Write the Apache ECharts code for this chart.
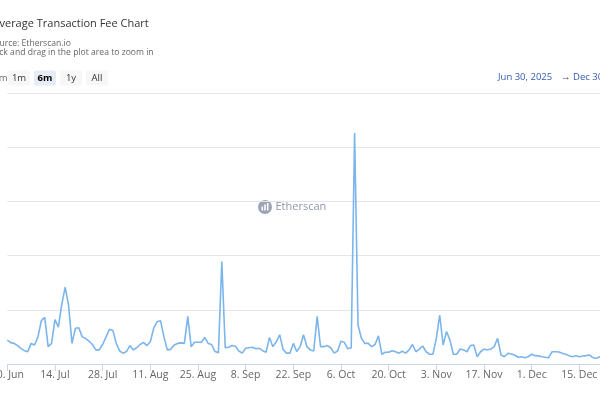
<!DOCTYPE html>
<html><head><meta charset="utf-8">
<script src="https://cdn.jsdelivr.net/npm/echarts@6/dist/echarts.min.js"></script>
<style>
html,body{margin:0;padding:0;width:600px;height:400px;overflow:hidden;background:#fff;}
#c{position:absolute;left:-40px;top:0;width:700px;height:400px;}
</style>
</head><body><div id="c"></div>
<script>
// ---- data ----
const startDate = [2025, 5, 30]; // Jun 30, 2025 (UTC)
const fees = [
0.22,0.197,0.19,0.17,0.145,0.123,0.114,0.19,0.175,0.25,
0.40,0.43,0.16,0.19,0.41,0.34,0.55,0.71,0.54,0.19,
0.33,0.335,0.25,0.235,0.21,0.18,0.13,0.13,0.18,0.25,
0.32,0.31,0.19,0.12,0.10,0.115,0.17,0.13,0.15,0.18,
0.20,0.17,0.205,0.33,0.39,0.40,0.25,0.13,0.135,0.175,
0.19,0.195,0.19,0.44,0.16,0.20,0.20,0.20,0.245,0.19,
0.18,0.115,0.105,0.945,0.15,0.155,0.17,0.163,0.12,0.10,
0.145,0.15,0.155,0.14,0.145,0.123,0.108,0.245,0.16,0.205,
0.27,0.135,0.10,0.10,0.19,0.115,0.16,0.27,0.16,0.13,
0.12,0.44,0.16,0.16,0.17,0.15,0.10,0.12,0.21,0.20,
0.14,0.15,2.13,0.36,0.237,0.19,0.19,0.16,0.18,0.26,
0.09,0.108,0.108,0.123,0.113,0.10,0.117,0.10,0.13,0.18,
0.113,0.138,0.166,0.113,0.09,0.09,0.237,0.45,0.175,0.30,
0.22,0.09,0.09,0.138,0.13,0.113,0.17,0.175,0.067,0.113,
0.138,0.13,0.138,0.16,0.237,0.083,0.067,0.099,0.093,0.083,
0.062,0.067,0.058,0.067,0.09,0.077,0.075,0.067,0.062,0.058,
0.113,0.113,0.11,0.099,0.09,0.077,0.067,0.077,0.067,0.074,
0.077,0.083,0.058,0.052,0.067,0.07,0.068,0.072,0.065,0.07,
0.075,0.068,0.066,0.07
];
const monthNames = ['Jan','Feb','Mar','Apr','May','Jun','Jul','Aug','Sep','Oct','Nov','Dec'];
const yTicks = [0, 0.5, 1, 1.5, 2, 2.5];
const rangeButtons = ['1m', '6m', '1y', 'All'];
const selectedButton = '6m';
const rangeFrom = 'Jun 30, 2025';
const rangeTo = 'Dec 30, 2025';
const titleText = 'Average Transaction Fee Chart';
const subtitleLines = ['Source: Etherscan.io', 'Click and drag in the plot area to zoom in'];

// ---- build ----
const t0 = Date.UTC(startDate[0], startDate[1], startDate[2]);
const categories = fees.map((_, i) => new Date(t0 + i * 86400000).toISOString().slice(0, 10));
const OX = 40; // container offset (page is cropped on the left)
const FONT = '"Open Sans", "Noto Sans", sans-serif';

const graphics = [];
graphics.push({type:'text', x: OX - 7.5, y: 24, style:{text: titleText, font: '11px ' + FONT, fill:'#333333', textVerticalAlign:'middle', verticalAlign:'middle'}});
subtitleLines.forEach((s, i) => graphics.push({type:'text', x: OX - 10.5, y: 43.5 + i * 8.8, style:{text: s, font: '8.6px ' + FONT, fill:'#666666', textVerticalAlign:'middle', verticalAlign:'middle'}}));
graphics.push({type:'text', x: OX + 7.5, y: 78, style:{text:'Zoom', font:'9.5px ' + FONT, fill:'#666666', textAlign:'right', align:'right', textVerticalAlign:'middle', verticalAlign:'middle'}});
rangeButtons.forEach((b, i) => {
  const x = OX + 8 + i * 26;
  const sel = b === selectedButton;
  graphics.push({type:'rect', shape:{x: x, y: 70.5, width: 22, height: 15, r: 2}, style:{fill: sel ? '#e6ebf5' : '#f7f7f7'}});
  graphics.push({type:'text', x: x + 11, y: 78, style:{text: b, font: (sel ? 'bold ' : '') + '9.5px ' + FONT, fill: sel ? '#000000' : '#333333', textAlign:'center', align:'center', textVerticalAlign:'middle', verticalAlign:'middle'}});
});
graphics.push({type:'text', x: OX + 498, y: 77.5, style:{text: rangeFrom, font:'9.5px ' + FONT, fill:'#335cad', textVerticalAlign:'middle', verticalAlign:'middle'}});
graphics.push({type:'text', x: OX + 561, y: 77.5, style:{text: '\u2192', font:'9.5px ' + FONT, fill:'#444444', textVerticalAlign:'middle', verticalAlign:'middle'}});
graphics.push({type:'text', x: OX + 573, y: 77.5, style:{text: rangeTo, font:'9.5px ' + FONT, fill:'#335cad', textVerticalAlign:'middle', verticalAlign:'middle'}});
// watermark
graphics.push({type:'circle', shape:{cx: OX + 265, cy: 207, r: 7}, style:{fill:'#8b93a7', opacity:0.85}, z: 0});
[[-3.5,3],[-0.8,5],[1.9,6.5]].forEach(([dx,h]) => graphics.push({type:'rect', shape:{x: OX + 265 + dx, y: 209.5 - h, width: 1.6, height: h + 1}, style:{fill:'#ffffff'}, z: 1}));
graphics.push({type:'text', x: OX + 275.5, y: 207, style:{text:'Etherscan', font:'11px ' + FONT, fill:'#8f96a8', textVerticalAlign:'middle', verticalAlign:'middle'}, z: 0});

const chart = echarts.init(document.getElementById('c'), null, {renderer:'canvas'});
chart.setOption({
  animation: false,
  backgroundColor: '#ffffff',
  graphic: graphics,
  grid: {left: OX + 7.3, right: 700 - (OX + 630.4), top: 93, bottom: 36, containLabel: false},
  xAxis: {
    type: 'category',
    data: categories,
    boundaryGap: false,
    axisLine: {lineStyle: {color: '#ccd6eb', width: 1}},
    axisTick: {interval: 13, length: 7, lineStyle: {color: '#ccd6eb'}},
    axisLabel: {
      interval: 13, margin: 6, color: '#666666', fontSize: 10.5, fontFamily: FONT,
      formatter: v => { const p = v.split('-'); return parseInt(p[2], 10) + '. ' + monthNames[parseInt(p[1], 10) - 1]; }
    },
    splitLine: {show: false}
  },
  yAxis: {
    type: 'value',
    min: yTicks[0], max: yTicks[yTicks.length - 1], interval: yTicks[1] - yTicks[0],
    axisLabel: {show: false},
    axisLine: {show: false}, axisTick: {show: false},
    splitLine: {lineStyle: {color: '#e6e6e6', width: 1}}
  },
  series: [{
    type: 'line', data: fees, showSymbol: false, symbol: 'none',
    lineStyle: {color: '#7cb5ec', width: 1.6}, z: 3
  }]
});
</script>
</body></html>
